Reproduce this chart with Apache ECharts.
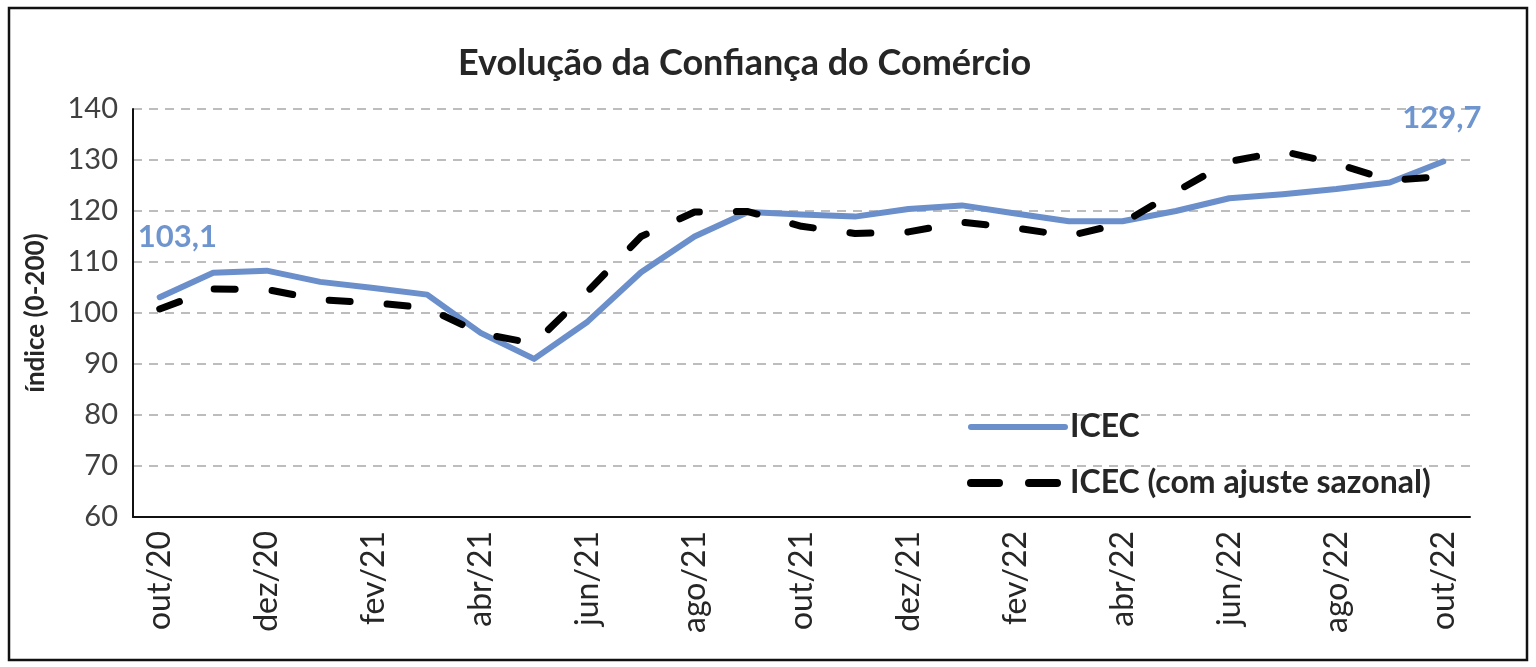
<!DOCTYPE html>
<html>
<head>
<meta charset="utf-8">
<script src="https://cdn.jsdelivr.net/npm/echarts@6/dist/echarts.min.js"></script>
<style>
html,body{margin:0;padding:0;background:#fff;}
#c{width:1536px;height:667px;}
</style>
</head>
<body>
<div id="c"></div>
<script>
var months = ['out/20','nov/20','dez/20','jan/21','fev/21','mar/21','abr/21','mai/21','jun/21','jul/21','ago/21','set/21','out/21','nov/21','dez/21','jan/22','fev/22','mar/22','abr/22','mai/22','jun/22','jul/22','ago/22','set/22','out/22'];
var icec = [103.1,107.9,108.3,106.1,104.9,103.6,96.1,91.0,98.3,108.0,115.0,119.8,119.3,118.9,120.4,121.1,119.5,118.0,118.0,120.0,122.5,123.3,124.3,125.6,129.7];
var icecSaz = [100.8,104.7,104.6,102.6,102.0,101.0,96.0,94.0,104.2,115.0,119.8,119.9,117.0,115.6,115.9,117.8,116.7,115.1,117.6,123.8,129.7,131.7,129.3,126.0,126.8];
var yTicks = [60,70,80,90,100,110,120,130,140];
var seriesNames = ['ICEC','ICEC (com ajuste sazonal)'];
var labeledIdx = [0, months.length - 1];

var font = 'Lato, "Noto Sans", sans-serif';
var blue = '#6a8fcb';
var chart = echarts.init(document.getElementById('c'));

var icecData = icec.map(function (v, i) {
  if (labeledIdx.indexOf(i) < 0) return v;
  return {
    value: v,
    label: {
      show: true,
      position: i === 0 ? [-22, -76] : [-41, -59]
    }
  };
});

chart.setOption({
  animation: false,
  backgroundColor: '#fff',
  title: {
    text: 'Evolução da Confiança do Comércio',
    left: 453,
    top: 40,
    textStyle: {fontSize: 36, fontWeight: 'bold', color: '#262626', fontFamily: font}
  },
  graphic: [{
    type: 'rect',
    shape: {x: 9, y: 8, width: 1518, height: 652},
    style: {fill: 'none', stroke: '#111', lineWidth: 2.5},
    silent: true,
    z: 100
  }],
  legend: {
    orient: 'vertical',
    left: 962,
    top: 406,
    itemWidth: 94,
    itemHeight: 14,
    itemGap: 24,
    textStyle: {fontSize: 32, fontWeight: 'bold', color: '#262626', fontFamily: font},
    data: [
      {name: seriesNames[0], itemStyle: {opacity: 0}, lineStyle: {width: 6, color: blue, cap: 'round'}},
      {name: seriesNames[1], itemStyle: {opacity: 0}, lineStyle: {width: 8, color: '#000', type: [28, 30], cap: 'round'}}
    ]
  },
  grid: {left: 133, right: 66, top: 109, bottom: 150, containLabel: false},
  xAxis: {
    type: 'category',
    data: months,
    boundaryGap: true,
    axisLine: {lineStyle: {color: '#111', width: 2}},
    axisTick: {show: false},
    axisLabel: {
      interval: 1,
      rotate: 90,
      fontSize: 32,
      color: '#262626',
      fontFamily: font,
      margin: 14
    },
    splitLine: {show: false}
  },
  yAxis: {
    type: 'value',
    min: yTicks[0],
    max: yTicks[yTicks.length - 1],
    interval: 10,
    name: 'índice (0-200)',
    nameLocation: 'middle',
    nameGap: 84,
    nameRotate: 90,
    nameTextStyle: {fontSize: 26, fontWeight: 'bold', color: '#262626', fontFamily: font},
    axisLine: {show: true, lineStyle: {color: '#111', width: 2}},
    axisTick: {show: false},
    axisLabel: {fontSize: 29, color: '#404040', fontFamily: font, margin: 15},
    splitLine: {show: true, lineStyle: {color: '#bdbdbd', width: 2, type: [9, 7]}}
  },
  series: [
    {
      name: seriesNames[0],
      type: 'line',
      data: icecData,
      symbol: 'circle',
      symbolSize: 0,
      showSymbol: true,
      z: 3,
      label: {
        show: false,
        formatter: function (p) { return String(p.value).replace('.', ','); },
        color: '#6f95cf',
        fontSize: 31,
        fontWeight: 'bold',
        fontFamily: font
      },
      lineStyle: {color: blue, width: 6, cap: 'round', join: 'round'},
      itemStyle: {color: blue}
    },
    {
      name: seriesNames[1],
      type: 'line',
      data: icecSaz,
      symbol: 'none',
      z: 4,
      lineStyle: {color: '#000', width: 7, type: [21, 37], cap: 'round', join: 'round'},
      itemStyle: {color: '#000'}
    }
  ]
});
</script>
</body>
</html>
